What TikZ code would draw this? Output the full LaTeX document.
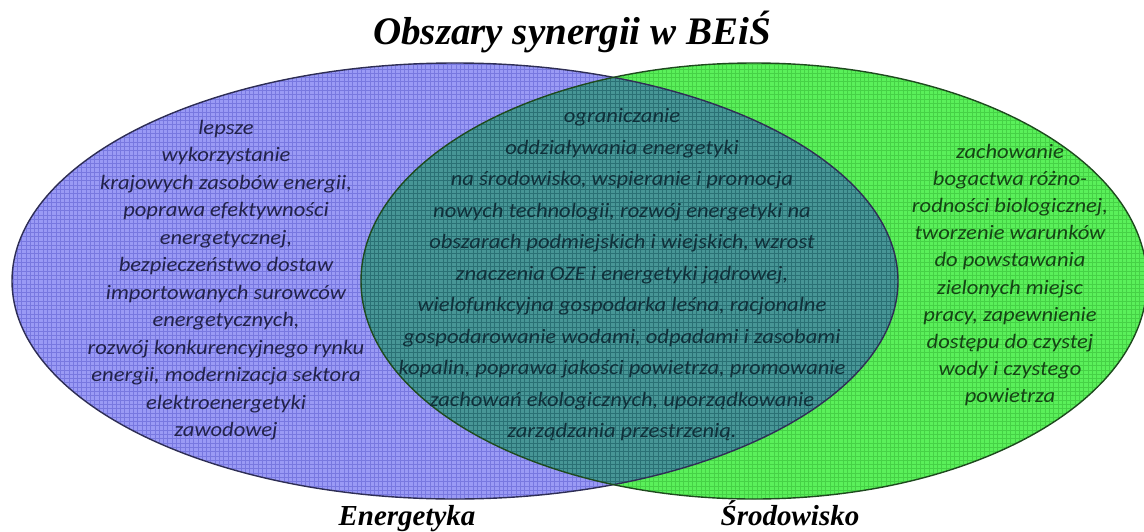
\documentclass[tikz,border=0pt]{standalone}
\usepackage{fontspec}
\setmainfont{Liberation Serif}
\newfontfamily\bodyfont[FakeStretch=1.1]{Carlito}
\newfontfamily\headfont{Liberation Serif}
\definecolor{energfill}{HTML}{9A9AF5}
\definecolor{srodfill}{HTML}{5AF05A}
\definecolor{overfill}{HTML}{479696}
\definecolor{energline}{HTML}{2E2E55}
\definecolor{srodline}{HTML}{1E4A1E}
\definecolor{energtext}{HTML}{22224A}
\definecolor{overtext}{HTML}{10303A}
\definecolor{srodtext}{HTML}{154415}
\tikzset{
  x=1pt, y=-1pt,
  gridlines/.style={line width=0.45pt, opacity=0.22},
  bodytext/.style={align=center, inner sep=0pt},
  headtext/.style={font=\headfont\bfseries\itshape, inner sep=0pt, anchor=base},
}
\begin{document}
\begin{tikzpicture}
\useasboundingbox (0,0) rectangle (1144,531);
% fills
\fill[energfill] (455,281) ellipse [x radius=443, y radius=218];
\fill[srodfill] (754,281) ellipse [x radius=393, y radius=218];
\begin{scope}
  \clip (455,281) ellipse [x radius=443, y radius=218];
  \fill[overfill] (754,281) ellipse [x radius=393, y radius=218];
\end{scope}
% grid texture
\begin{scope}
  \clip (455,281) ellipse [x radius=443, y radius=218];
  \draw[gridlines, draw=blue!60!black] (0,0) grid[step=4.3pt] (1144,531);
\end{scope}
\begin{scope}
  \clip (754,281) ellipse [x radius=393, y radius=218];
  \draw[gridlines, draw=green!40!black] (0,0) grid[step=4.3pt] (1144,531);
\end{scope}
% outlines
\draw[energline, line width=1.4pt] (455,281) ellipse [x radius=443, y radius=218];
\draw[srodline, line width=1.4pt] (754,281) ellipse [x radius=393, y radius=218];
% title
\node[headtext, font=\headfont\bfseries\itshape\fontsize{39}{44}\selectfont] (title) at (572,44) {Obszary synergii w BEiŚ};
% texts
\node[bodytext, text=energtext, font=\bodyfont\itshape\fontsize{20.5}{27.5}\selectfont] (energtxt) at (226,280) {lepsze\\
wykorzystanie\\
krajowych zasobów energii,\\
poprawa efektywności\\
energetycznej,\\
bezpieczeństwo dostaw\\
importowanych surowców\\
energetycznych,\\
rozwój konkurencyjnego rynku\\
energii, modernizacja sektora\\
elektroenergetyki\\
zawodowej};
\node[bodytext, text=overtext, font=\bodyfont\itshape\fontsize{20.5}{31.5}\selectfont] (overtxt) at (622,275) {ograniczanie\\
oddziaływania energetyki\\
na środowisko, wspieranie i promocja\\
nowych technologii, rozwój energetyki na\\
obszarach podmiejskich i wiejskich, wzrost\\
znaczenia OZE i energetyki jądrowej,\\
wielofunkcyjna gospodarka leśna, racjonalne\\
gospodarowanie wodami, odpadami i zasobami\\
kopalin, poprawa jakości powietrza, promowanie\\
zachowań ekologicznych, uporządkowanie\\
zarządzania przestrzenią.};
\node[bodytext, text=srodtext, font=\bodyfont\itshape\fontsize{20.5}{27.2}\selectfont] (srodtxt) at (1010,275) {zachowanie\\
bogactwa różno-\\
rodności biologicznej,\\
tworzenie warunków\\
do powstawania\\
zielonych miejsc\\
pracy, zapewnienie\\
dostępu do czystej\\
wody i czystego\\
powietrza};
% labels
\node[headtext, font=\headfont\bfseries\itshape\fontsize{29}{34}\selectfont] (energlabel) at (407,525) {Energetyka};
\node[headtext, font=\headfont\bfseries\itshape\fontsize{29}{34}\selectfont] (srodlabel) at (790,525) {Środowisko};
\end{tikzpicture}
\end{document}
